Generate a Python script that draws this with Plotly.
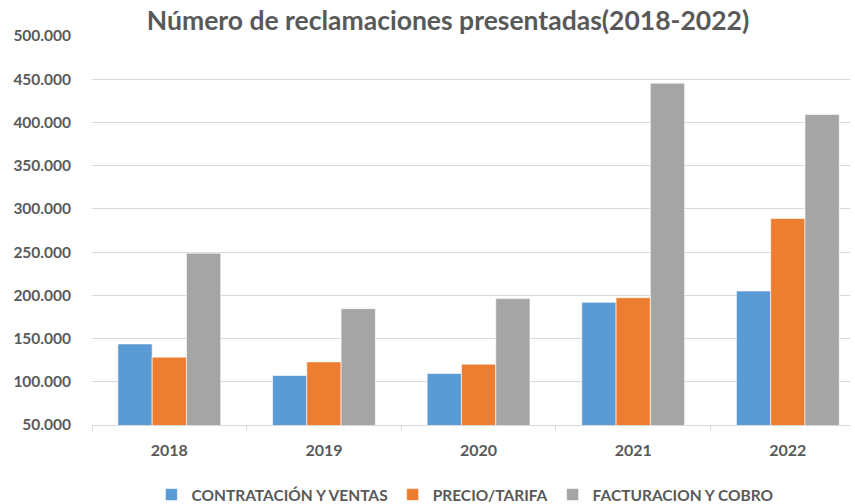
import plotly.graph_objects as go

years = ["2018", "2019", "2020", "2021", "2022"]
series_names = ["CONTRATACIÓN Y VENTAS", "PRECIO/TARIFA", "FACTURACION Y COBRO"]
contratacion = [143800, 107300, 109600, 191900, 205000]
precio = [128500, 123000, 120400, 197300, 288800]
facturacion = [248800, 184600, 196200, 445400, 409200]
tick_vals = [50000, 100000, 150000, 200000, 250000, 300000, 350000, 400000, 450000, 500000]
tick_text = ["50.000", "100.000", "150.000", "200.000", "250.000", "300.000", "350.000", "400.000", "450.000", "500.000"]

colors = ["#5B9BD5", "#ED7D31", "#A5A5A5"]
FONT = "Lato"
TXT = "#595959"

fig = go.Figure()
for name, vals, col in zip(series_names, [contratacion, precio, facturacion], colors):
    fig.add_trace(go.Bar(
        x=years, y=vals, name=name,
        marker=dict(color=col, line=dict(color="rgba(255,255,255,0.6)", width=1)),
    ))

fig.update_layout(
    width=855, height=504,
    paper_bgcolor="white", plot_bgcolor="white",
    margin=dict(l=92, r=5, t=36, b=79, autoexpand=False),
    barmode="group", bargap=0.335, bargroupgap=0,
    font=dict(family=FONT, color=TXT),
    title=dict(text="Número de reclamaciones presentadas(2018-2022)",
               x=0.524, xanchor="center", y=0.958, yanchor="middle",
               font=dict(family=FONT, size=26.5, color=TXT, weight="bold")),
    legend=dict(orientation="h", x=0.492, xanchor="center", y=-0.18, yanchor="middle",
                font=dict(family=FONT, size=15.5, color=TXT, weight="bold"), itemwidth=30),
    xaxis=dict(type="category", range=[-0.5, 4.402], showgrid=False, automargin=False,
               showline=True, linecolor="#D9D9D9", linewidth=1,
               ticks="outside", tickson="boundaries", ticklen=5, tickcolor="#D9D9D9",
               ticklabelstandoff=11,
               tickfont=dict(family=FONT, size=16, color=TXT, weight="bold")),
    yaxis=dict(range=[50000, 500000], tickvals=tick_vals, ticktext=tick_text, automargin=False,
               showgrid=True, gridcolor="#D9D9D9", gridwidth=1, zeroline=False,
               showline=False, ticks="", ticklabelstandoff=20,
               tickfont=dict(family=FONT, size=15.5, color=TXT, weight="bold")),
)
fig.write_html("out.html", config={"displayModeBar": False},
               post_script="document.body.style.margin='0';")
